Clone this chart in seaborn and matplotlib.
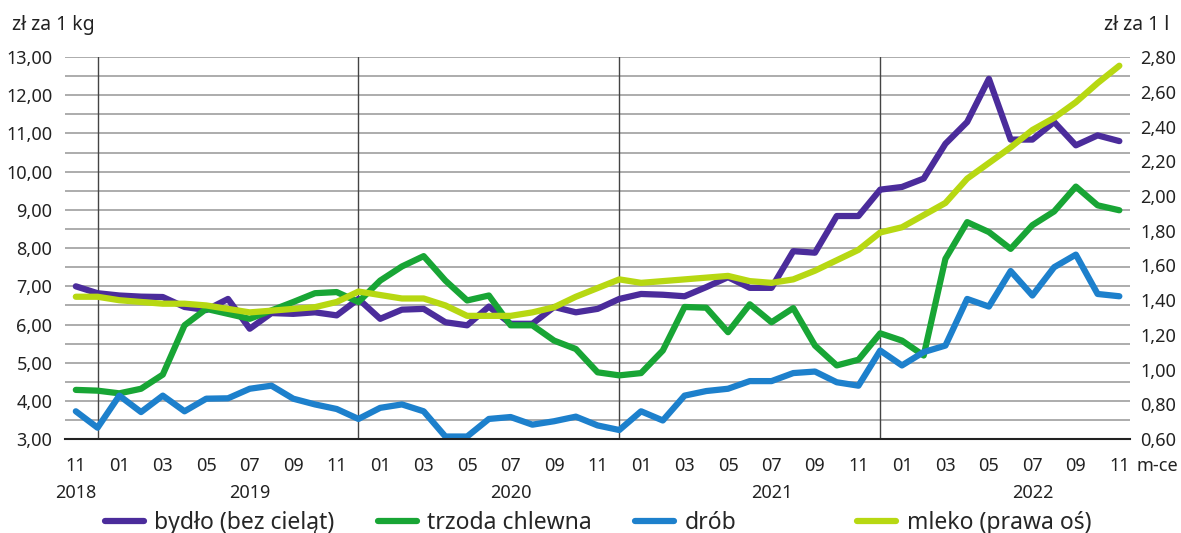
import numpy as np
import pandas as pd
import matplotlib
matplotlib.use('Agg')
import matplotlib.pyplot as plt
import matplotlib.transforms as mtransforms
from matplotlib.ticker import FuncFormatter, MultipleLocator
import seaborn as sns

# miesiace od 11/2018 do 11/2022
miesiace = ['11', '12', '01', '02', '03', '04', '05', '06', '07', '08', '09', '10', '11',
            '12', '01', '02', '03', '04', '05', '06', '07', '08', '09', '10', '11',
            '12', '01', '02', '03', '04', '05', '06', '07', '08', '09', '10', '11',
            '12', '01', '02', '03', '04', '05', '06', '07', '08', '09', '10', '11']
lata = ['2018', '2019', '2020', '2021', '2022']
lata_poz = [0, 8, 20, 32, 44]   # pod ktorym miesiacem stoi rok
grudnie = [1, 13, 25, 37]

# zl za 1 kg
bydlo = [7.00, 6.82, 6.76, 6.73, 6.72, 6.46, 6.38, 6.67, 5.89, 6.30, 6.28, 6.32, 6.24,
         6.67, 6.15, 6.39, 6.41, 6.06, 5.98, 6.47, 6.02, 6.02, 6.46, 6.32, 6.41,
         6.67, 6.80, 6.78, 6.74, 6.98, 7.24, 6.96, 6.96, 7.92, 7.88, 8.84, 8.84,
         9.53, 9.60, 9.82, 10.73, 11.30, 12.43, 10.84, 10.84, 11.30, 10.69, 10.95, 10.80]
trzoda = [4.29, 4.27, 4.20, 4.32, 4.69, 5.98, 6.41, 6.28, 6.15, 6.37, 6.59, 6.82, 6.85,
          6.59, 7.15, 7.52, 7.79, 7.15, 6.63, 6.76, 5.98, 5.98, 5.58, 5.36, 4.75,
          4.67, 4.73, 5.32, 6.46, 6.44, 5.80, 6.53, 6.06, 6.43, 5.45, 4.93, 5.08,
          5.77, 5.58, 5.19, 7.72, 8.68, 8.42, 7.98, 8.60, 8.96, 9.61, 9.12, 8.99]
drob = [3.73, 3.30, 4.14, 3.71, 4.14, 3.73, 4.06, 4.07, 4.32, 4.40, 4.06, 3.91, 3.79,
        3.53, 3.82, 3.91, 3.73, 3.07, 3.07, 3.53, 3.58, 3.38, 3.47, 3.59, 3.36,
        3.24, 3.73, 3.49, 4.14, 4.26, 4.32, 4.52, 4.52, 4.73, 4.77, 4.49, 4.40,
        5.32, 4.93, 5.28, 5.45, 6.67, 6.47, 7.40, 6.76, 7.50, 7.83, 6.80, 6.74]
# zl za 1 l (prawa os)
mleko = [1.42, 1.42, 1.40, 1.39, 1.38, 1.38, 1.37, 1.35, 1.33, 1.34, 1.35, 1.36, 1.39,
         1.45, 1.43, 1.41, 1.41, 1.37, 1.31, 1.31, 1.31, 1.33, 1.36, 1.42, 1.47,
         1.52, 1.50, 1.51, 1.52, 1.53, 1.54, 1.51, 1.50, 1.52, 1.57, 1.63, 1.69,
         1.79, 1.82, 1.89, 1.96, 2.10, 2.19, 2.28, 2.38, 2.45, 2.54, 2.65, 2.75]

serie = ['bydło (bez cieląt)', 'trzoda chlewna', 'drób']
etykiety = serie + ['mleko (prawa oś)']
kolory = {'bydło (bez cieląt)': '#4b2c9b', 'trzoda chlewna': '#18a535',
          'drób': '#1d80cc', 'mleko (prawa oś)': '#b7d812'}

sns.set_style('white')
plt.rcParams['font.family'] = ['Noto Sans', 'DejaVu Sans']

n = len(miesiace)
idx = np.arange(n)
df = pd.DataFrame({'m': np.tile(idx, 3),
                   'cena': bydlo + trzoda + drob,
                   'seria': np.repeat(serie, n)})
df_mleko = pd.DataFrame({'m': idx, 'cena': mleko})

fig = plt.figure(figsize=(11.81, 5.33), dpi=100)
ax = fig.add_axes([0.055, 0.176, 0.902, 0.717])

lw = 4.5
sns.lineplot(data=df, x='m', y='cena', hue='seria', hue_order=serie, palette=kolory,
             linewidth=lw, legend=False, ax=ax, zorder=3)
uchwyty = list(ax.get_lines()[:3])

ax2 = ax.twinx()
sns.lineplot(data=df_mleko, x='m', y='cena', color=kolory['mleko (prawa oś)'],
             linewidth=lw, legend=False, ax=ax2, zorder=3)
uchwyty.append(ax2.get_lines()[0])

ax.set_xlim(-0.5, n - 0.5)
ax.set_ylim(3, 13)
ax2.set_ylim(0.6, 2.8)

# siatka co 0,5
for v in np.arange(3.5, 13.01, 0.5):
    ax.axhline(v, color='#a6a6a6', lw=1.3, zorder=1)
for g in grudnie:
    ax.axvline(g, color='#444444', lw=1.0, zorder=2)

fs = 13
fmt = FuncFormatter(lambda v, p: f'{v:.2f}'.replace('.', ','))
ax.yaxis.set_major_locator(MultipleLocator(1))
ax.yaxis.set_major_formatter(fmt)
ax2.yaxis.set_major_locator(MultipleLocator(0.2))
ax2.yaxis.set_major_formatter(fmt)
ax.tick_params(axis='y', length=0, labelsize=fs, labelcolor='#222222', pad=9)
ax2.tick_params(axis='y', length=0, labelsize=fs, labelcolor='#222222', pad=7)

ax.set_xticks(idx)
ax.set_xticklabels([m if i % 2 == 0 else '' for i, m in enumerate(miesiace)])
ax.tick_params(axis='x', direction='inout', length=6, width=1.3, color='#222222',
               labelsize=fs, labelcolor='#222222', pad=10)

for a in (ax, ax2):
    for s in ['top', 'left', 'right']:
        a.spines[s].set_visible(False)
    a.set_xlabel('')
    a.set_ylabel('')
ax2.spines['bottom'].set_visible(False)
ax.spines['bottom'].set_color('#222222')
ax.spines['bottom'].set_linewidth(1.5)
ax.spines['bottom'].set_zorder(4)

# lata pod miesiacami
tr = mtransforms.blended_transform_factory(ax.transData, fig.transFigure)
for rok, poz in zip(lata, lata_poz):
    ax.text(poz, 0.075, rok, transform=tr, ha='center', va='center',
            fontsize=fs, color='#222222')
fig.text(0.980, 0.126, 'm-ce', ha='center', va='center', fontsize=fs, color='#222222')

fig.text(0.010, 0.953, 'zł za 1 kg', ha='left', va='center', fontsize=14, color='#222222')
fig.text(0.990, 0.953, 'zł za 1 l', ha='right', va='center', fontsize=14, color='#222222')

# legenda - kazdy wpis w swoim miejscu, jak w oryginale
leg_x = [0.089, 0.320, 0.538, 0.726]
for h, lab, x in zip(uchwyty, etykiety, leg_x):
    fig.legend([h], [lab], loc='center left', bbox_to_anchor=(x, 0.019),
               frameon=False, fontsize=16.5, handlelength=1.7, handletextpad=0.45,
               borderpad=0, borderaxespad=0)

fig.savefig('out.png', dpi=100)
